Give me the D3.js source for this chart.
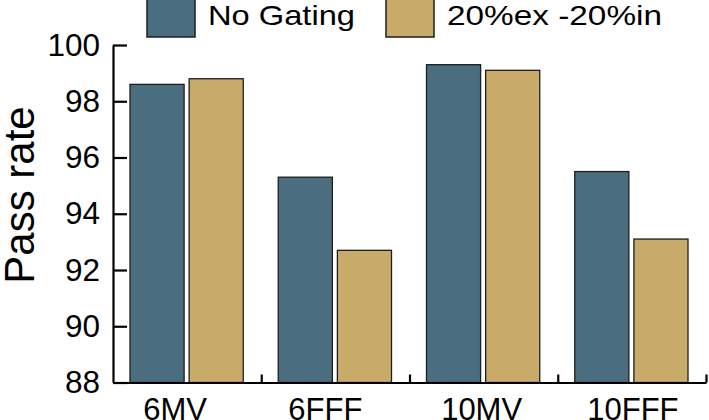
<!DOCTYPE html>
<html>
<head>
<meta charset="utf-8">
<script src="https://cdn.jsdelivr.net/npm/d3@7"></script>
<style>
  html, body { margin: 0; padding: 0; background: #fff; }
  svg { display: block; font-family: "Liberation Sans", Arial, sans-serif; }
</style>
</head>
<body>
<svg id="chart" width="709" height="420"></svg>
<script>
const categories = ["6MV", "6FFF", "10MV", "10FFF"];
const series = ["No Gating", "20%ex -20%in"];
const noGating = [98.6, 95.3, 99.3, 95.5];
const gated = [98.8, 92.7, 99.1, 93.1];
const yTicks = [88, 90, 92, 94, 96, 98, 100];
const colors = ["#4a6d7f", "#c9ab69"];

(function () {
const rows = categories.map((c, i) => ({cat: c, values: [noGating[i], gated[i]]}));

const svg = d3.select("#chart");
const mLeft = 113, mRight = 706, mTop = 45, mBottom = 382.5;

const x = d3.scaleBand().domain(categories).range([mLeft, mRight]).paddingInner(0).paddingOuter(0);
const xs = d3.scaleBand().domain(series).range([17, x.bandwidth() - 18]).paddingInner(5 / 59);
const y = d3.scaleLinear().domain([88, 100]).range([mBottom, mTop]);

// bars
const g = svg.append("g");
rows.forEach(r => {
  g.selectAll(null)
    .data(series.map((s, j) => ({s, v: r.values[j], j})))
    .enter().append("rect")
    .attr("x", d => x(r.cat) + xs(d.s))
    .attr("y", d => y(d.v))
    .attr("width", xs.bandwidth())
    .attr("height", d => y(88) - y(d.v))
    .attr("fill", d => colors[d.j])
    .attr("stroke", "#1e1e1e")
    .attr("stroke-width", 1.3);
});

// y axis
const yAxis = svg.append("g")
  .attr("transform", `translate(${mLeft},0)`)
  .call(d3.axisLeft(y).tickValues(yTicks).tickSizeInner(-14).tickSizeOuter(0).tickPadding(13).tickFormat(d3.format("d")));
yAxis.select(".domain").attr("stroke", "#000").attr("stroke-width", 2.2);
yAxis.selectAll(".tick line").attr("stroke", "#000").attr("stroke-width", 2.2);
yAxis.selectAll(".tick text").attr("font-size", 31.5).attr("fill", "#000")
  .attr("font-family", "Liberation Sans, Arial, sans-serif");

// x axis boundary ticks
const xb = d3.scaleLinear().domain([0, categories.length]).range([mLeft, mRight]);
const xTickAxis = svg.append("g")
  .attr("transform", `translate(0,${mBottom})`)
  .call(d3.axisBottom(xb).tickValues(d3.range(1, categories.length + 1)).tickSizeInner(-8).tickSizeOuter(0).tickFormat(""));
xTickAxis.select(".domain").attr("stroke", "#000").attr("stroke-width", 2.2);
xTickAxis.selectAll(".tick line").attr("stroke", "#000").attr("stroke-width", 2.2);

// x labels
const labelShift = [-12, -10, -2, 1];
const xAxis = svg.append("g")
  .attr("transform", `translate(0,${mBottom})`)
  .call(d3.axisBottom(x).tickSize(0).tickPadding(15));
xAxis.select(".domain").remove();
xAxis.selectAll(".tick text").attr("font-size", 31).attr("fill", "#000")
  .attr("font-family", "Liberation Sans, Arial, sans-serif")
  .attr("dx", (d, i) => labelShift[i]);

// y title
svg.append("text")
  .attr("transform", "translate(34,195) rotate(-90)")
  .attr("text-anchor", "middle")
  .attr("font-size", 42)
  .attr("fill", "#000")
  .text("Pass rate");

// legend
const legendX = [147, 386];
const legendW = [147, 215];
const lg = svg.append("g");
series.forEach((s, i) => {
  lg.append("rect")
    .attr("x", legendX[i]).attr("y", -11)
    .attr("width", 48).attr("height", 48)
    .attr("fill", colors[i])
    .attr("stroke", "#1e1e1e").attr("stroke-width", 1.5);
  lg.append("text")
    .attr("x", legendX[i] + 61).attr("y", 25)
    .attr("font-size", 28)
    .attr("textLength", legendW[i])
    .attr("lengthAdjust", "spacingAndGlyphs")
    .attr("fill", "#000")
    .text(s);
});
})();
</script>
</body>
</html>
